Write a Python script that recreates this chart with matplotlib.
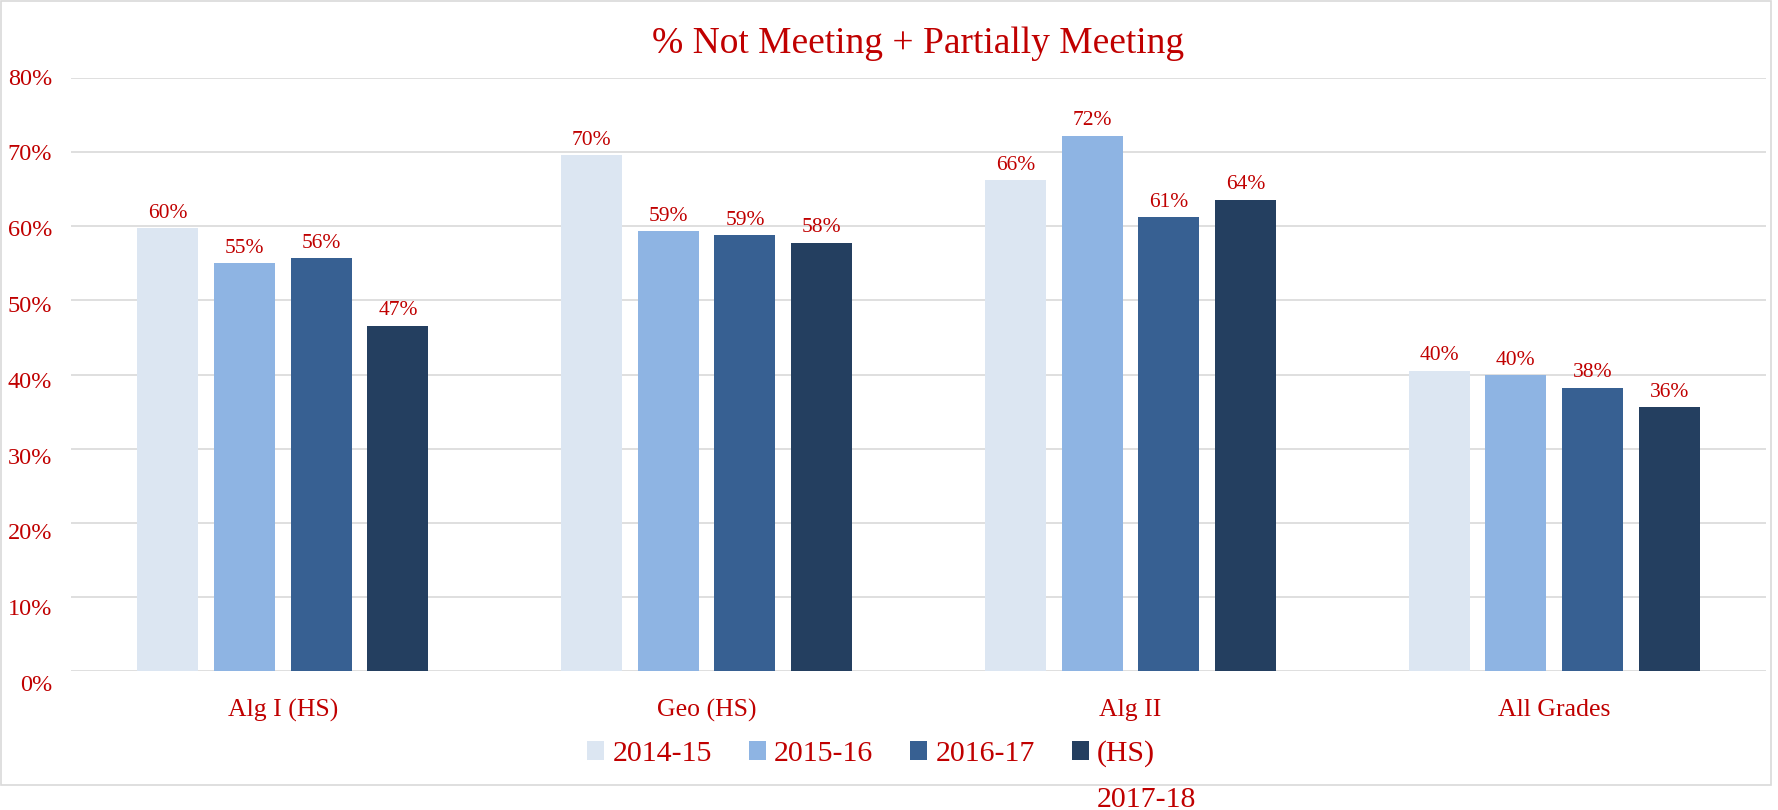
import matplotlib
matplotlib.use('Agg')
import matplotlib.pyplot as plt
import matplotlib.transforms as mtransforms
import numpy as np
from matplotlib.patches import Rectangle

plt.rcParams['font.family'] = ['Liberation Serif', 'DejaVu Serif']

# ── Data ──
categories = ['Alg I (HS)', 'Geo (HS)', 'Alg II', 'All Grades']
series = ['2014-15', '2015-16', '2016-17', '(HS) 2017-18']
v_2014_15 = [0.597, 0.696, 0.662, 0.405]
v_2015_16 = [0.550, 0.593, 0.722, 0.399]
v_2016_17 = [0.557, 0.588, 0.612, 0.382]
v_2017_18 = [0.466, 0.578, 0.636, 0.356]
values = [v_2014_15, v_2015_16, v_2016_17, v_2017_18]
y_ticks = [0, 0.1, 0.2, 0.3, 0.4, 0.5, 0.6, 0.7, 0.8]

colors = ['#DCE6F2', '#8EB4E3', '#376092', '#243F60']
red = '#C00000'
grid = '#D9D9D9'

fig = plt.figure(figsize=(17.78, 8.1), dpi=100)
ax = fig.add_axes([0.0399, 0.1716, 0.9534, 0.7321])

x = np.arange(len(categories))
w = 0.144
step = 0.181
for i, (name, vals) in enumerate(zip(series, values)):
    bars = ax.bar(x + (i - 1.5) * step, vals, width=w, color=colors[i],
                  label=name.split(' ')[0], zorder=3)
    ax.bar_label(bars, labels=[f'{v*100:.0f}%' for v in vals],
                 padding=4, color=red, fontsize=15.5)

ax.set_xlim(-0.5, len(categories) - 0.5)
ax.set_ylim(0, 0.8)
ax.set_yticks(y_ticks)
ax.set_yticklabels([f'{t*100:.0f}%' for t in y_ticks])
ax.set_xticks(x)
ax.set_xticklabels(categories)
ax.tick_params(axis='y', length=0, pad=13.5, labelcolor=red, labelsize=17.5)
ax.tick_params(axis='x', length=0, pad=20, labelcolor=red, labelsize=18.5)
ax.grid(axis='y', color=grid, linewidth=1.2, zorder=0)
for s in ax.spines.values():
    s.set_visible(False)

# y labels sit a touch lower towards the bottom, as in the original export
for t, v in zip(ax.get_yticklabels(), y_ticks):
    dy = -((0.8 - v) / 0.1 * 1.7 - 1.5) / 100
    t.set_transform(t.get_transform() + mtransforms.ScaledTranslation(0, dy, fig.dpi_scale_trans))

ax.set_title('% Not Meeting + Partially Meeting', color=red, fontsize=27, pad=18)

# Legend (last series name wraps onto a second line)
leg = fig.legend(loc='center', bbox_to_anchor=(0.490, 1 - 754 / 810), ncol=4,
                 frameon=False, fontsize=21.5, labelcolor=red,
                 handlelength=0.57, handleheight=0.57, handletextpad=0.27,
                 columnspacing=1.24)

# chart border
fig.patches.append(Rectangle((0.0006, 1 - 785 / 810), 0.9955, 785 / 810 - 0.0012,
                             transform=fig.transFigure, fill=False,
                             edgecolor=grid, linewidth=1.2))

fig.canvas.draw()
t = leg.get_texts()[-1]
bb = t.get_window_extent()
fig.text(bb.x0 / fig.bbox.width, ((bb.y0 + bb.y1) / 2 - 46) / fig.bbox.height,
         series[-1].split(' ', 1)[1], color=red, fontsize=21.5, ha='left', va='center')

fig.savefig('out.png', dpi=100)
